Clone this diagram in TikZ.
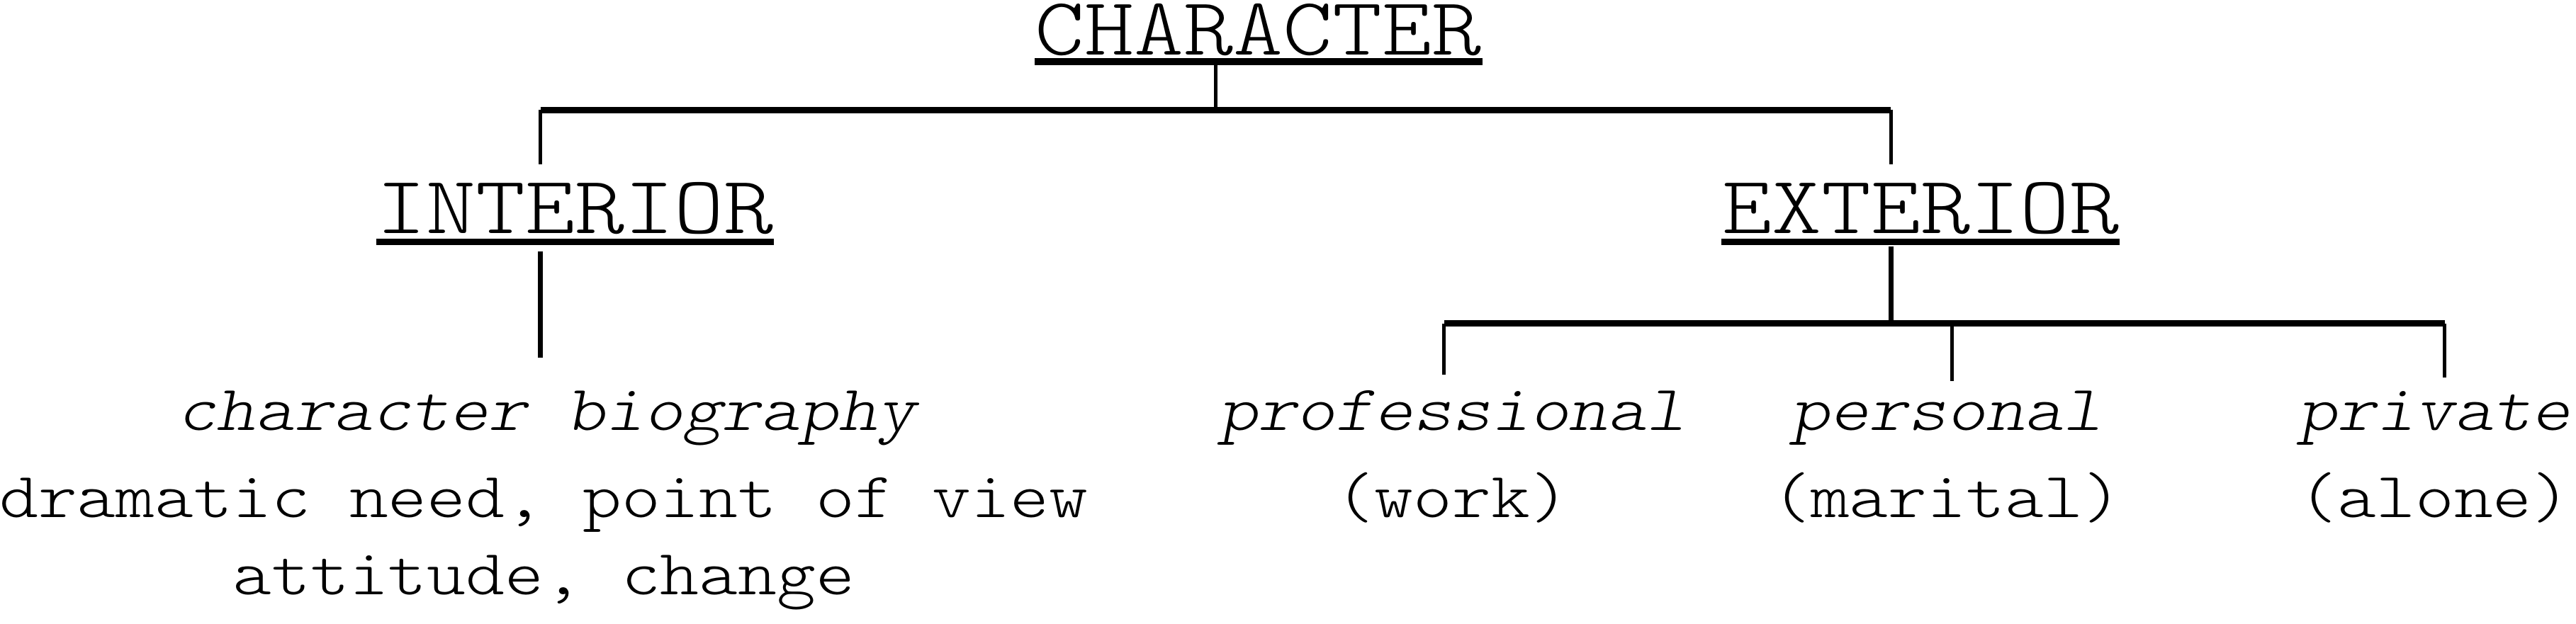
\documentclass[tikz,border=0pt]{standalone}
\usepackage{fontspec}
\usepackage{tikz}
\newfontfamily\courfont{lmmonolt10}[Extension=.otf,UprightFont=*-regular,ItalicFont=*-oblique,FakeStretch=1.15]

\begin{document}
\begin{tikzpicture}[x=0.5pt,y=-0.5pt]
    \tikzstyle{head}=[anchor=base,inner sep=0pt,font=\courfont\fontsize{25}{30}\selectfont]
    \tikzstyle{leaf}=[anchor=base,inner sep=0pt,font=\courfont\fontsize{19.6}{24}\selectfont]
    \tikzstyle{uline}=[line width=2pt]
    \tikzstyle{bar}=[line width=2pt]
    \tikzstyle{stem}=[line width=1.1pt]
    \tikzstyle{thick stem}=[line width=1.6pt]

    \useasboundingbox (0,0) rectangle (1568,380);

    % Draw the headings
    \node[head] (char) at (766,33.5) {CHARACTER};
    \node[head] (int) at (350,142) {INTERIOR};
    \node[head] (ext) at (1169,142) {EXTERIOR};
    \draw[uline] ([yshift=-2pt]char.base west) -- ([yshift=-2pt]char.base east);
    \foreach \name in {int,ext}
        \draw[uline] ([yshift=-2.7pt]\name.base west) -- ([yshift=-2.7pt]\name.base east);

    % Interior side
    \node[leaf] (bio) at (333,262) {\itshape character biography};
    \node[leaf] (need) at (331,315) {dramatic need, point of view};
    \node[leaf] (att) at (331,362) {attitude, change};

    % Exterior side
    \foreach \name / \x / \lbl / \sub in {prof/884/professional/work,pers/1185/personal/marital,priv/1482/private/alone}
    {
        \node[leaf] (\name) at (\x,262) {\itshape\lbl};
        \node[leaf] (\name-sub) at (\x,315) {(\sub)};
    }

    % Junction points
    \coordinate (c-top) at (740,38);
    \coordinate (c-mid) at (740,67);
    \coordinate (i-mid) at (329,67);
    \coordinate (i-top) at (329,100);
    \coordinate (e-mid) at (1151,67);
    \coordinate (e-top) at (1151,100);
    \coordinate (i-low) at (329,153);
    \coordinate (i-end) at (329,218);
    \coordinate (e-low) at (1151,150);
    \coordinate (e-bar) at (1151,197);
    \coordinate (prof-bar) at (879,197);
    \coordinate (prof-end) at (879,228);
    \coordinate (pers-bar) at (1188,197);
    \coordinate (pers-end) at (1188,232);
    \coordinate (priv-bar) at (1488,197);
    \coordinate (priv-end) at (1488,230);

    % Connect the levels
    \draw[stem] (c-top) -- (c-mid);
    \draw[bar] (i-mid) -- (e-mid);
    \draw[stem] (i-mid) -- (i-top);
    \draw[stem] (e-mid) -- (e-top);
    \draw[thick stem] (i-low) -- (i-end);
    \draw[thick stem] (e-low) -- (e-bar);
    \draw[bar] (prof-bar) -- (priv-bar);
    \foreach \name in {prof,pers,priv}
        \draw[stem] (\name-bar) -- (\name-end);
\end{tikzpicture}
\end{document}
